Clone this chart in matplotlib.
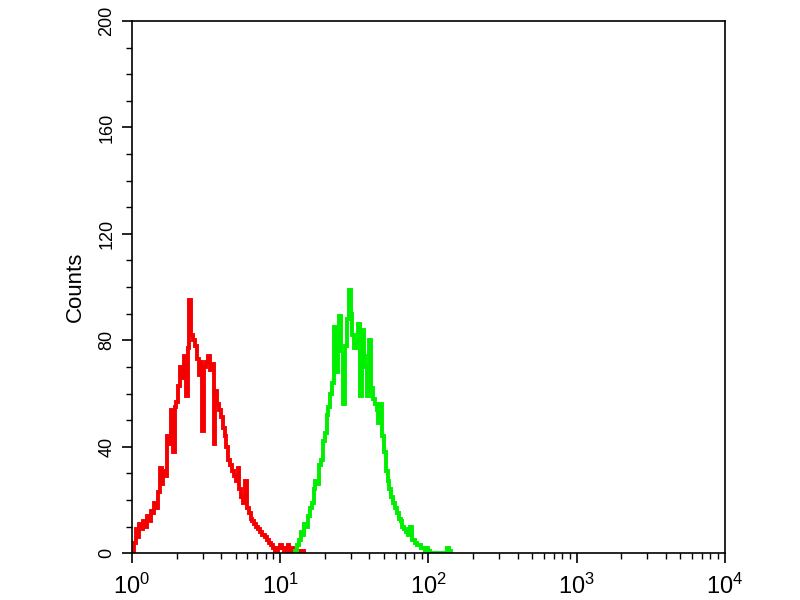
import numpy as np
import matplotlib
matplotlib.use("Agg")
import matplotlib.pyplot as plt
from matplotlib.ticker import LogLocator, MultipleLocator, NullFormatter

plt.rcParams['font.family'] = ['Liberation Sans', 'DejaVu Sans']
plt.rcParams['mathtext.fontset'] = 'custom'
plt.rcParams['mathtext.rm'] = 'Liberation Sans Narrow'

CHANNELS_PER_DECADE = 80

# red histogram: counts per channel, starting at channel 0
red_start = 0
red_counts = [1, 4, 9, 6, 11, 9, 12, 10, 14, 12, 16, 15, 19, 17, 23, 32, 26, 31, 29, 44,
              41, 54, 38, 55, 57, 63, 70, 66, 74, 59, 77, 95, 82, 80, 78, 73, 67, 72, 46, 70,
              72, 74, 69, 71, 41, 61, 56, 54, 51, 47, 44, 40, 35, 33, 31, 29, 27, 32, 24, 21,
              19, 27, 17, 15, 13, 12, 11, 10, 9, 8, 7, 7, 6, 5, 4, 3, 2, 1, 1, 2,
              3, 2, 1, 2, 3, 1, 2, 1, 1, 0, 1, 0, 1, 0]

# green histogram: counts per channel, starting at channel 88
green_start = 88
green_counts = [1, 3, 5, 8, 7, 11, 10, 14, 17, 19, 24, 27, 26, 33, 35, 42, 45, 52, 55, 60,
                64, 85, 68, 77, 89, 76, 56, 78, 88, 99, 90, 82, 77, 79, 86, 59, 84, 74, 70, 59,
                80, 62, 58, 56, 54, 49, 56, 44, 38, 31, 27, 24, 21, 19, 17, 15, 13, 12, 10, 9,
                8, 7, 10, 5, 5, 4, 3, 3, 2, 2, 1, 2, 1, 0, 0, 0, 0, 0, 0, 0,
                0, 0, 2, 1, 0]

y_ticks = [0, 40, 80, 120, 160, 200]


def channel_edges(start, n):
    ch = np.arange(start, start + n + 1)
    return 10.0 ** (ch / CHANNELS_PER_DECADE)


fig = plt.figure(figsize=(8, 6), dpi=100)
ax = fig.add_axes([0.165, 0.078, 0.741, 0.887])

for counts, start, col in [(red_counts, red_start, '#f50000'),
                           (green_counts, green_start, '#00ee00')]:
    edges = channel_edges(start, len(counts))
    ax.stairs(counts, edges, color=col, linewidth=2.8)

ax.set_xscale('log')
ax.set_xlim(1, 1e4)
ax.set_ylim(0, 200)

ax.xaxis.set_major_locator(LogLocator(base=10, numticks=10))
ax.xaxis.set_minor_locator(LogLocator(base=10, subs=np.arange(2, 10), numticks=20))
ax.xaxis.set_minor_formatter(NullFormatter())
ax.set_yticks(y_ticks)
ax.yaxis.set_minor_locator(MultipleLocator(10))

ax.tick_params(which='major', direction='out', length=7, width=1.2, color='black')
ax.tick_params(which='minor', direction='out', length=4, width=1.0, color='black')
ax.tick_params(axis='x', labelsize=17, pad=8)
ax.tick_params(axis='y', labelsize=13, labelrotation=90, pad=5)
for lbl in ax.get_yticklabels():
    lbl.set_va('center')

ax.set_ylabel('Counts', fontsize=16, labelpad=9)

for sp in ax.spines.values():
    sp.set_linewidth(1.2)

fig.savefig('out.png', dpi=100)
